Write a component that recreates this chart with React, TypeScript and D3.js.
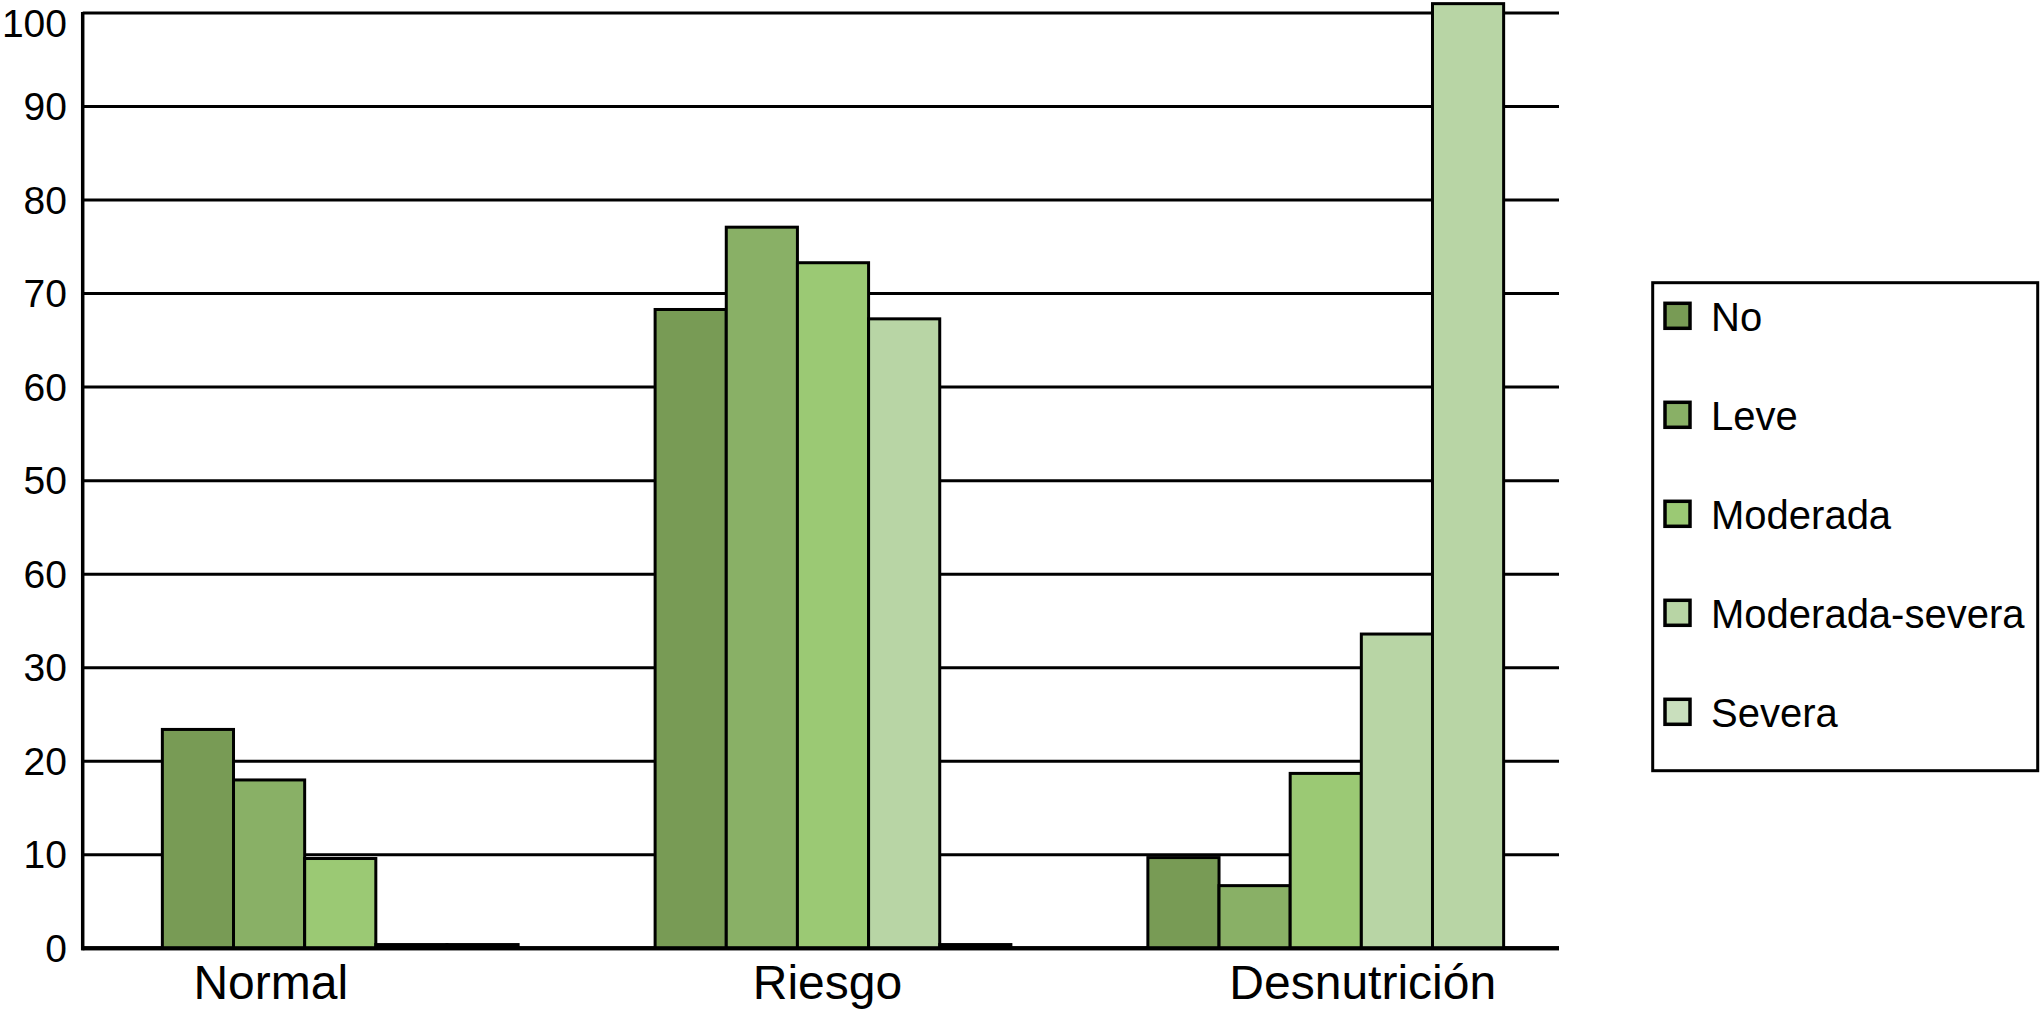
import React from "react";
import * as d3 from "d3";

const categories = ["Normal", "Riesgo", "Desnutrición"];
const seriesNames = ["No", "Leve", "Moderada", "Moderada-severa", "Severa"];
// values per category, in series order
const normalValues = [23.4, 18, 9.6, 0.4, 0.4];
const riesgoValues = [68.3, 77.1, 73.3, 67.3, 0.4];
const desnutricionValues = [9.7, 6.7, 18.7, 33.6, 101];
const tickValues = [0, 10, 20, 30, 40, 50, 60, 70, 80, 90, 100];
const tickLabels = ["0", "10", "20", "30", "60", "50", "60", "70", "80", "90", "100"];

const barColors = ["#789b55", "#89b066", "#9bc974", "#b8d5a5", "#b8d5a5"];
const legendColors = ["#789b55", "#89b066", "#9bc974", "#b8d5a5", "#c9dfbd"];

const valuesByCategory = [normalValues, riesgoValues, desnutricionValues];

const W = 2040;
const H = 1010;
const left = 82.7;
const right = 1559;
const top = 13;
const bottom = 948.3;
const font = "'Liberation Sans', Arial, Helvetica, sans-serif";
const labelShift = [-69.5, -5.5, 37];

export default function App() {
  const y = d3.scaleLinear().domain([0, 100]).range([bottom, top]);
  const x0 = d3
    .scaleBand<string>()
    .domain(categories)
    .range([left, right])
    .paddingInner(0.278)
    .paddingOuter(0.137)
    .align(0.59);
  const x1 = d3
    .scaleBand<string>()
    .domain(seriesNames)
    .range([0, x0.bandwidth()])
    .padding(0);

  return (
    <svg
      width={W}
      height={H}
      style={{ position: "absolute", left: 0, top: 0, background: "#fff" }}
      fontFamily={font}
    >
      <rect x={0} y={0} width={W} height={H} fill="#fff" />
      {/* gridlines */}
      {tickValues.map((t) => (
        <line
          key={"g" + t}
          x1={left}
          x2={right}
          y1={y(t)}
          y2={y(t)}
          stroke="#000"
          strokeWidth={t === 0 ? 4 : 3}
        />
      ))}
      {/* y tick labels */}
      {tickValues.map((t, i) => (
        <text
          key={"t" + t}
          x={67}
          y={Math.max(y(t), 23)}
          textAnchor="end"
          dominantBaseline="central"
          fontSize={39}
          fill="#000"
        >
          {tickLabels[i]}
        </text>
      ))}
      {/* bars */}
      {categories.map((c, ci) => (
        <g key={c} transform={`translate(${x0(c)},0)`}>
          {seriesNames.map((s, si) => {
            const v = valuesByCategory[ci][si];
            return (
              <rect
                key={s}
                x={x1(s)}
                y={y(v)}
                width={x1.bandwidth()}
                height={bottom - y(v)}
                fill={v < 1 ? "#000" : barColors[si]}
                stroke="#000"
                strokeWidth={3}
              />
            );
          })}
        </g>
      ))}
      {/* axes */}
      <line x1={left} x2={left} y1={top - 1} y2={bottom + 2} stroke="#000" strokeWidth={3.5} />
      <line x1={left - 1.5} x2={right} y1={bottom} y2={bottom} stroke="#000" strokeWidth={4} />
      {/* category labels */}
      {categories.map((c, ci) => (
        <text
          key={"c" + c}
          x={(x0(c) as number) + x0.bandwidth() / 2 + labelShift[ci]}
          y={999}
          textAnchor="middle"
          fontSize={48}
          fill="#000"
        >
          {c}
        </text>
      ))}
      {/* legend */}
      <rect x={1652.7} y={282.7} width={385} height={488} fill="#fff" stroke="#000" strokeWidth={3} />
      {seriesNames.map((s, i) => {
        const cy = 315.8 + i * 99;
        return (
          <g key={"l" + s}>
            <rect
              x={1665}
              y={cy - 12.5}
              width={25}
              height={25}
              fill={legendColors[i]}
              stroke="#000"
              strokeWidth={3.5}
            />
            <text x={1711} y={cy + 1} dominantBaseline="central" fontSize={40} fill="#000">
              {s}
            </text>
          </g>
        );
      })}
    </svg>
  );
}
